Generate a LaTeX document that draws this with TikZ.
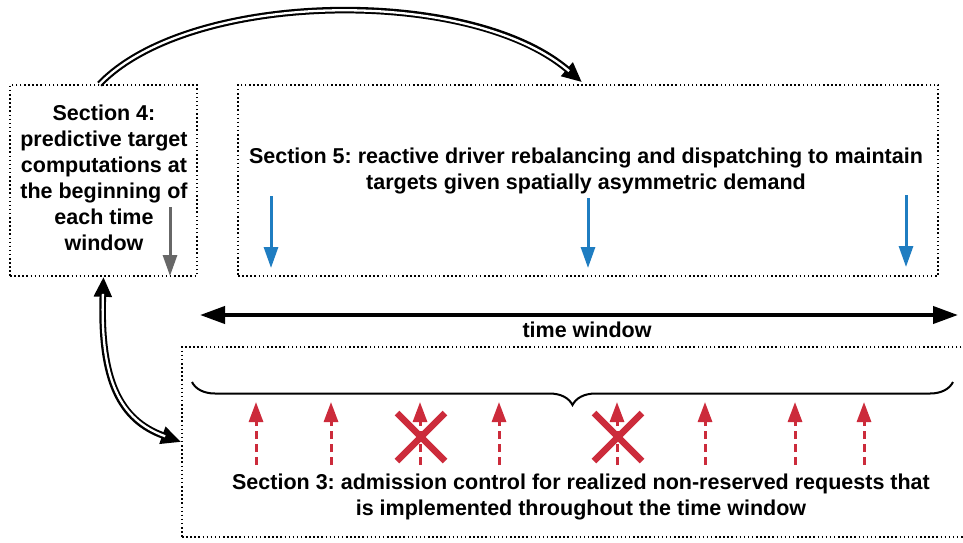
\documentclass[tikz,border=0pt]{standalone}
\usepackage{fontspec}
\setmainfont{Liberation Sans}
\usetikzlibrary{arrows.meta,decorations.pathreplacing}
\definecolor{flowblue}{HTML}{1F7DC1}
\definecolor{reqred}{HTML}{CC2B3B}
\definecolor{tipgray}{HTML}{676767}
\frenchspacing
\begin{document}
\begin{tikzpicture}[x=1pt,y=-1pt,
  secbox/.style={draw, line width=1.6pt, dash pattern=on 1.5pt off 2.6pt, inner sep=0pt},
  label/.style={font=\bfseries\fontsize{21.5}{26}\selectfont, align=center, inner sep=0pt},
  dblarrow/.style={line width=6.6pt, #1,
    postaction={draw=white, line width=2.3pt, -, shorten >=17pt}},
  dbltwo/.style={line width=6.6pt, {Triangle[length=20pt,width=17pt]}-{Triangle[length=20pt,width=17pt]},
    postaction={draw=white, line width=2.3pt, -, shorten >=17pt, shorten <=17pt}},
  droparrow/.style={draw=#1, line width=3pt, -{Triangle[length=21pt,width=14pt]}},
  request/.style={draw=reqred, line width=3pt, dash pattern=on 8pt off 5pt,
    -{Triangle[length=20pt,width=14pt]}},
  reject/.style={draw=reqred, line width=6.5pt}]
\clip (0,0) rectangle (963,542);

% three section boxes
\node[secbox, minimum width=187pt, minimum height=191pt] (sec4) at (103.5,180.5) {};
\node[secbox, minimum width=700pt, minimum height=191pt] (sec5) at (588,180.5) {};
\node[secbox, minimum width=840pt, minimum height=190pt] (sec3) at (602,442) {};

% box texts
\node[label] (t4) at (104,178) {Section 4:\\predictive target\\computations at\\the beginning of\\each time\\window};
\node[label] (t5) at (586,171) {Section 5: reactive driver rebalancing and dispatching to maintain\\targets given spatially asymmetric demand};
\node[label] (t3) at (581,497) {Section 3: admission control for realized non-reserved requests that\\is implemented throughout the time window};

% arrows between sections
\draw[dblarrow={-{Triangle[length=20pt,width=17pt]}}]
  ([xshift=-4pt]sec4.north) .. controls (190,-10) and (470,-14) .. ([xshift=-6pt,yshift=2pt]sec5.north);
\draw[dbltwo] (sec4.south) .. controls (100,380) and (120,420) .. (sec3.west);

% target computation marker
\coordinate (g0) at (170,207);
\coordinate (g1) at (170,276);
\draw[droparrow=tipgray] (g0) -- (g1);

% rebalancing / dispatching markers
\foreach \x/\a/\b [count=\i] in {271/196/268, 588/198/268, 906/195/267} {
  \coordinate (b\i top) at (\x,\a);
  \coordinate (b\i bot) at (\x,\b);
  \draw[droparrow=flowblue] (b\i top) -- (b\i bot);
}

% time window
\coordinate (wl) at (200,315);
\coordinate (wr) at (958,315);
\draw[line width=4pt, {Triangle[length=25pt,width=17pt]}-{Triangle[length=25pt,width=17pt]}] (wl) -- (wr);
\node[label, anchor=base] (tw) at (587,337) {time window};

% brace over the request arrivals
\coordinate (br) at (953,382);
\coordinate (bl) at (192,382);
\draw[line width=2pt, decorate, decoration={brace, amplitude=23pt, aspect=0.5}] (br) -- (bl);

% request arrivals
\foreach \x [count=\i] in {256,331,420,499,617,705,795,864} {
  \coordinate (r\i base) at (\x,465);
  \coordinate (r\i tip) at (\x,402);
  \draw[request] (r\i base) -- (r\i tip);
}

% rejected requests
\foreach \x [count=\i] in {421,618} {
  \coordinate (x\i a) at (\x-24,413);
  \coordinate (x\i b) at (\x+24,461);
  \coordinate (x\i c) at (\x-24,461);
  \coordinate (x\i d) at (\x+24,413);
  \draw[reject] (x\i a) -- (x\i b);
  \draw[reject] (x\i c) -- (x\i d);
}
\end{tikzpicture}
\end{document}
